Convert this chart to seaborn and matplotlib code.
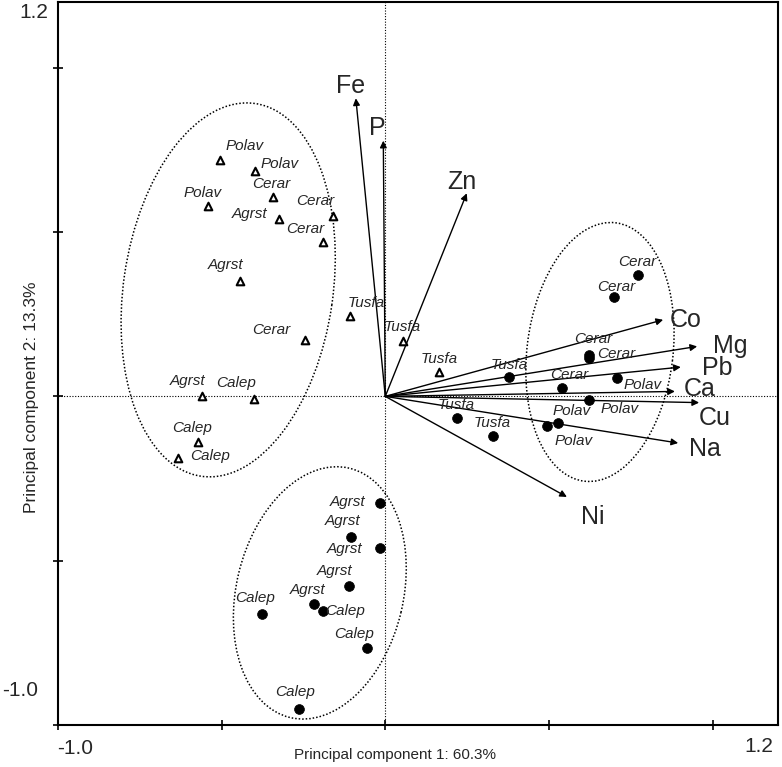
import matplotlib
matplotlib.use("Agg")
import matplotlib.pyplot as plt
from matplotlib.patches import Ellipse
import seaborn as sns
import pandas as pd

# ---------------- data ----------------
# open triangles (group A)
tri_species = ["Polav", "Polav", "Cerar", "Polav", "Cerar", "Agrst", "Cerar", "Agrst",
               "Cerar", "Tusfa", "Tusfa", "Tusfa", "Agrst", "Calep", "Calep", "Calep"]
tri_x = [-0.505, -0.398, -0.342, -0.541, -0.159, -0.324, -0.191, -0.444,
         -0.245, -0.108, 0.053, 0.164, -0.561, -0.400, -0.571, -0.634]
tri_y = [0.718, 0.687, 0.606, 0.578, 0.549, 0.539, 0.469, 0.351,
         0.172, 0.245, 0.167, 0.075, 0.000, -0.008, -0.138, -0.188]

# filled circles (group B)
circ_species = ["Agrst", "Agrst", "Agrst", "Agrst", "Agrst", "Calep", "Calep", "Calep", "Calep",
                "Cerar", "Cerar", "Cerar", "Cerar", "Cerar", "Polav", "Polav", "Polav", "Polav",
                "Tusfa", "Tusfa", "Tusfa"]
circ_x = [-0.016, -0.106, -0.016, -0.110, -0.218, -0.189, -0.378, -0.057, -0.264,
          0.773, 0.700, 0.623, 0.623, 0.539, 0.709, 0.623, 0.529, 0.495,
          0.378, 0.218, 0.328]
circ_y = [-0.323, -0.427, -0.462, -0.577, -0.632, -0.652, -0.662, -0.766, -0.951,
          0.370, 0.301, 0.126, 0.116, 0.025, 0.057, -0.011, -0.082, -0.089,
          0.060, -0.066, -0.122]

# element loadings (arrows)
elements = ["Fe", "P", "Zn", "Co", "Mg", "Pb", "Ca", "Cu", "Na", "Ni"]
elem_x = [-0.090, -0.006, 0.249, 0.849, 0.953, 0.903, 0.885, 0.959, 0.895, 0.555]
elem_y = [0.907, 0.778, 0.618, 0.233, 0.152, 0.089, 0.015, -0.019, -0.142, -0.306]

x_title = "Principal component 1: 60.3%"
y_title = "Principal component 2: 13.3%"
axis_min, axis_max = -1.0, 1.2

# ---------------- layout (pixel offsets of labels) ----------------
tri_off = [(25, -14), (25, -7), (-2, -13), (-6, -13), (-18, -15), (-30, -5), (-17, -13), (-14, -16),
           (-34, -10), (16, -13), (0, -14), (0, -13), (-14, -15), (-18, -16), (-6, -14), (32, -2)]
circ_off = [(-32, -1), (-8, -16), (-35, 1), (-15, -15), (-6, -14), (22, 0), (-6, -16), (-13, -14), (-4, -17),
            (-1, -13), (2, -10), (4, -16), (27, -4), (8, -13), (25, 7), (30, 9), (13, -12), (26, 15),
            (0, -12), (0, -13), (0, -13)]
elem_off = [(-5, -12), (-6, -13), (-5, -11), (23, 0), (33, 0), (36, 1), (25, -2), (16, 15), (27, 6), (26, 20)]

# ellipses: centre x, centre y, width, height, angle
ellipses = [(-0.48, 0.324, 1.146, 0.64, 81.7),
            (-0.20, -0.598, 0.78, 0.51, 76.5),
            (0.656, 0.135, 0.792, 0.446, 83.0)]

sns.set_style("white")
plt.rcParams["font.family"] = ["Liberation Sans", "DejaVu Sans"]

W, H = 782, 767
fig = plt.figure(figsize=(W / 100, H / 100), dpi=100)
ax = fig.add_axes([58 / W, 1 - 725 / H, 720 / W, 723 / H])

ax.set_xlim(axis_min, axis_max)
ax.set_ylim(axis_min, axis_max)

# crosshair
ax.axvline(0, color="black", lw=0.8, ls=(0, (1, 1.5)), zorder=1)
ax.axhline(0, color="black", lw=0.8, ls=(0, (1, 1.5)), zorder=1)

# ellipses
for cx, cy, w, h, a in ellipses:
    ax.add_patch(Ellipse((cx, cy), w, h, angle=a, fill=False, ec="black",
                         lw=1.1, ls=(0, (1, 1.3)), zorder=1))

# arrows
for name, ex, ey, (dx, dy) in zip(elements, elem_x, elem_y, elem_off):
    ax.annotate("", xy=(ex, ey), xytext=(0, 0),
                arrowprops=dict(arrowstyle="-|>", color="black", lw=1.0,
                                mutation_scale=10, shrinkA=0, shrinkB=0), zorder=2)
    ax.annotate(name, (ex, ey), xytext=(dx * 0.72, -dy * 0.72), textcoords="offset points",
                ha="center", va="center", fontsize=18, zorder=4)

df_t = pd.DataFrame({"x": tri_x, "y": tri_y, "sp": tri_species})
df_c = pd.DataFrame({"x": circ_x, "y": circ_y, "sp": circ_species})

sns.scatterplot(data=df_t, x="x", y="y", marker="^", s=30, facecolor="white",
                edgecolor="black", linewidth=1.5, ax=ax, zorder=3, legend=False)
sns.scatterplot(data=df_c, x="x", y="y", marker="o", s=50, color="black",
                edgecolor="black", linewidth=0.5, ax=ax, zorder=3, legend=False)

for sp, px, py, (dx, dy) in zip(tri_species, tri_x, tri_y, tri_off):
    ax.annotate(sp, (px, py), xytext=(dx * 0.72, -dy * 0.72), textcoords="offset points",
                ha="center", va="center", fontsize=11, style="italic", zorder=4)
for sp, px, py, (dx, dy) in zip(circ_species, circ_x, circ_y, circ_off):
    ax.annotate(sp, (px, py), xytext=(dx * 0.72, -dy * 0.72), textcoords="offset points",
                ha="center", va="center", fontsize=11, style="italic", zorder=4)

# axes styling
for s in ax.spines.values():
    s.set_linewidth(1.5)
    s.set_color("black")
ticks = [-1.0, -0.5, 0.0, 0.5, 1.0]
ax.set_xticks(ticks)
ax.set_yticks(ticks)
ax.set_xticklabels([])
ax.set_yticklabels([])
ax.tick_params(direction="inout", length=7, width=1.2, colors="black",
               bottom=True, left=True)
ax.set_xlabel("")
ax.set_ylabel("")

# axis end labels
fig.text(57 / W, 1 - 748 / H, "-1.0", ha="left", va="center", fontsize=15)
fig.text(773 / W, 1 - 747 / H, "1.2", ha="right", va="center", fontsize=15)
fig.text(48 / W, 1 - 12 / H, "1.2", ha="right", va="center", fontsize=15)
fig.text(38 / W, 1 - 690 / H, "-1.0", ha="right", va="center", fontsize=15)

fig.text(395 / W, 1 - 755 / H, x_title, ha="center", va="center", fontsize=11)
fig.text(32 / W, 1 - 397 / H, y_title, ha="center", va="center", fontsize=12.5, rotation=90)

fig.savefig("out.png", dpi=100)
